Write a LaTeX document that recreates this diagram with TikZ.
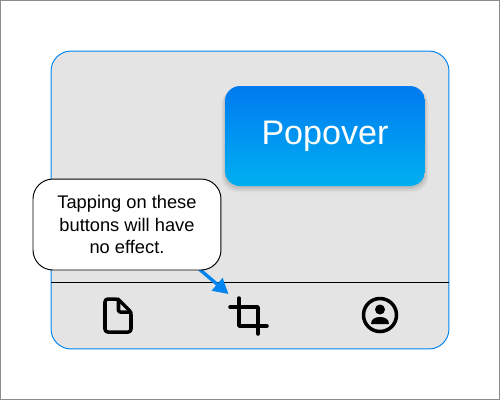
\documentclass[tikz,border=0pt]{standalone}
\usepackage{xcolor}
\usepackage{fontspec}
\setmainfont{Liberation Sans}
\usetikzlibrary{arrows.meta,positioning,shadows}
\definecolor{frmgray}  {RGB}{140,140,140}
\definecolor{popblue}  {RGB}{  0,122,240}
\definecolor{popcyan}  {RGB}{  0,176,240}
\definecolor{panelgray}{RGB}{228,228,228}
\definecolor{tipblue}  {RGB}{  0,132,240}
\tikzset{
  frm/.style={draw=frmgray,fill=white,line width=0.57pt,minimum width=9.98cm,
              minimum height=7.98cm,inner sep=0pt,outer sep=0pt},
  panel/.style={draw=tipblue,fill=panelgray,rounded corners=0.4cm,line width=0.55pt,
              minimum width=7.96cm,minimum height=5.96cm,inner sep=0pt,outer sep=0pt},
  pop/.style={rounded corners=0.3cm,top color=popblue,bottom color=popcyan,
              minimum width=4cm,minimum height=2cm,inner sep=0pt,outer sep=0pt,
              text=white,font=\fontsize{19.4}{22}\selectfont,
              general shadow={shadow xshift=0pt,shadow yshift=-2.5pt,shadow scale=1.035,fill=black,opacity=0.03},
              general shadow={shadow xshift=0pt,shadow yshift=-2pt,shadow scale=1.025,fill=black,opacity=0.04},
              general shadow={shadow xshift=0pt,shadow yshift=-1.5pt,shadow scale=1.015,fill=black,opacity=0.05},
              general shadow={shadow xshift=0pt,shadow yshift=-1pt,shadow scale=1.005,fill=black,opacity=0.05}},
  note/.style={draw=black,fill=white,rounded corners=0.4cm,line width=0.55pt,
              minimum width=3.76cm,minimum height=1.82cm,inner sep=0pt,outer sep=0pt,
              align=center,font=\fontsize{10.4}{13}\selectfont},
  bar/.style={draw=black,line width=0.55pt},
  arr/.style={-{Triangle[length=0.3cm,width=0.32cm]},color=tipblue,line width=1.9pt},
  ico/.style={draw=black,line width=2pt,line cap=round,line join=round},
}
\begin{document}
\begin{tikzpicture}[x=0.02cm,y=-0.02cm]
  \useasboundingbox (0,0) rectangle (500,400);
  \node[frm](frame) at (250,200) {};
  \node[panel](screen) at (250,200) {};
  \coordinate (barL) at (51,282);
  \coordinate (barR) at (449,282);
  \coordinate (tail) at (198,268);
  \coordinate (crop) at (228.5,294);
  \node[pop,below left=0.7cm and 0.48cm of screen.north east](popover) {\raisebox{-1.5pt}{Popover}};

  \draw[bar](barL) -- (barR);
  \draw[arr](tail) -- (crop);
  \node[note,above right=0.24cm and -0.36cm of barL](hint) {Tapping on these\\buttons will have\\no effect.};

  \draw[ico,rounded corners=1.6pt](112,299) -- (118,299) -- (131,312) -- (131,332) -- (105,332) -- (105,299) -- cycle;
  \draw[ico,rounded corners=0.8pt](118.5,299) -- (118.5,312) -- (131,312);

  \draw[ico](239,298) -- (239,326) -- (267,326);
  \draw[ico](230,307) -- (258,307) -- (258,334);

  \draw[ico] (380,315) circle (16.5);
  \fill (380,309.5) circle (5);
  \fill (371,324) .. controls (371,319) and (375,317) .. (380,317)
        .. controls (385,317) and (389,319) .. (389,324) -- cycle;
\end{tikzpicture}
\end{document}
